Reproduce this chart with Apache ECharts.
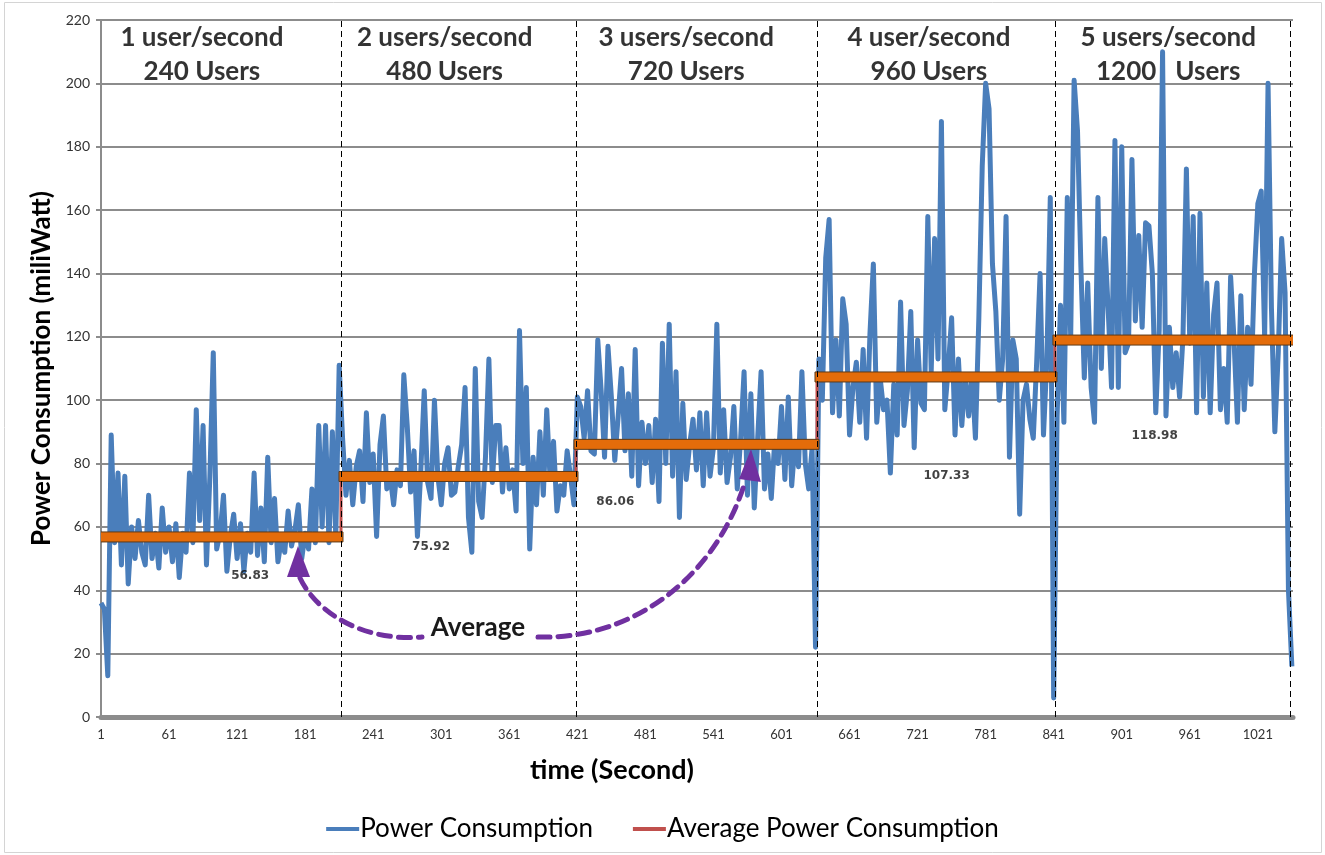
<!DOCTYPE html>
<html><head><meta charset="utf-8">
<script src="https://cdn.jsdelivr.net/npm/echarts@6/dist/echarts.min.js"></script>
<style>html,body{margin:0;padding:0;background:#fff}#c{width:1325px;height:855px}</style>
</head><body><div id="c"></div><script>
// ---- data (one reading every 3 seconds) ----
const SAMPLE_STEP = 3;
const seg1Start = 1;
const seg1Power = [36,34,13,89,55,77,48,76,42,60, 50,62,52,48,70,50,58,47,66,52, 60,49,61,44,58,52,77,55,97,62,
  92,48,76,115,53,58,70,46,57,64, 50,61,46,58,52,77,51,66,49,82, 55,69,49,56,52,65,54,59,67,50,
  58,53,72,55,92,60,92,55,90,57, 111];
const seg2Start = 214;
const seg2Power = [88,70,81,67,79,84,68,96,74,83, 57,86,95,72,76,67,78,73,108,92, 71,84,57,78,103,74,69,100,76,67,
  80,85,70,71,79,86,104,63,52,110, 68,63,82,113,74,92,92,71,85,72, 78,65,122,80,104,53,82,67,90,70,
  97,75,87,65,73,70,84,76,67];
const seg3Start = 421;
const seg3Power = [101,98,88,103,84,83,119,103,82,117, 101,81,95,110,84,102,76,116,73,93, 80,92,74,94,68,118,80,124,76,109,
  63,99,75,86,94,78,96,73,96,76, 85,124,77,97,74,82,98,72,88,109, 70,102,66,88,109,72,83,69,87,80,
  98,75,101,73,87,79,109,80,72,85, 22];
const seg4Start = 634;
const seg4Power = [113,100,145,157,96,119,95,132,124,89, 104,112,93,116,88,121,143,93,107,97, 100,77,105,89,131,92,103,128,85,119,
  99,97,158,109,151,113,188,97,110,126, 89,113,92,108,95,108,88,126,174,200, 192,143,128,100,113,158,82,119,113,64,
  100,105,94,88,112,140,89,113,164,6];
const seg5Start = 844;
const seg5Power = [95,130,93,164,120,201,185,142,107,137, 104,93,164,110,151,129,104,182,104,180, 115,118,176,125,152,123,156,155,140,96,
  122,210,95,123,104,115,101,120,173,118, 158,96,159,101,137,96,127,137,97,110, 93,139,119,93,133,97,123,105,140,162,
  166,120,200,129,90,115,151,134,40,16];

const xTickLabels = [1,61,121,181,241,301,361,421,481,541,601,661,721,781,841,901,961,1021];
const segDividers = [212.6, 419.8, 632.3, 842.1, 1049.3];
const avgValues = [56.83, 75.92, 86.06, 107.33, 118.98];
const segRates = ['1 user/second','2 users/second','3 users/second','4 user/second','5 users/second'];
const segUsers = ['240 Users','480 Users','720 Users','960 Users','1200   Users'];

// ---- annotation placement ----
const X_MIN = 1, X_MAX = 1052;
const headerSecs = [90, 304, 517, 731, 942];
const headerVal = 209;
const avgLabelSecs = [132.5, 292, 454.5, 746.6, 930];
const avgLabelVals = [44.5, 53.7, 67.9, 76, 88.7];

const powerData = [];
[[seg1Start,seg1Power],[seg2Start,seg2Power],[seg3Start,seg3Power],[seg4Start,seg4Power],[seg5Start,seg5Power]]
  .forEach(([s, vals]) => vals.forEach((v, i) => powerData.push([s + i * SAMPLE_STEP, v])));

const segEdges = [X_MIN].concat(segDividers.slice(0, 4), [X_MAX]);
const avgLine = [];
const avgBars = [];
avgValues.forEach((a, i) => {
  avgLine.push([segEdges[i], a], [segEdges[i + 1], a]);
  avgBars.push([segEdges[i], segEdges[i + 1], a]);
});

const chart = echarts.init(document.getElementById('c'), null, {renderer: 'canvas'});
const FONT = 'Lato';
chart.setOption({
  animation: false,
  textStyle: {fontFamily: FONT},
  grid: {left: 101, right: 32, top: 20, bottom: 138, containLabel: false},
  legend: {
    data: ['Power Consumption', 'Average Power Consumption'],
    top: 811, left: 'center', icon: 'rect', itemWidth: 33, itemHeight: 4, itemGap: 40,
    textStyle: {fontFamily: FONT, fontSize: 26, color: '#000', padding: [0, 0, 0, -4]}
  },
  xAxis: {
    type: 'value', min: X_MIN, max: X_MAX, interval: 60,
    name: 'time (Second)', nameLocation: 'middle', nameGap: 40,
    nameTextStyle: {fontFamily: FONT, fontSize: 27, fontWeight: 'bold', color: '#000', padding: [0, 170, 0, 0]},
    axisLine: {show: true, lineStyle: {color: '#8c8c8c', width: 5}},
    axisTick: {show: false},
    splitLine: {show: false},
    axisLabel: {showMaxLabel: false, color: '#333', fontSize: 13, margin: 11,
      formatter: v => xTickLabels.indexOf(Math.round(v)) >= 0 ? String(Math.round(v)) : ''}
  },
  yAxis: {
    type: 'value', min: 0, max: 220, interval: 20,
    name: 'Power Consumption (miliWatt)', nameLocation: 'middle', nameGap: 45, nameRotate: 90,
    nameTextStyle: {fontFamily: FONT, fontSize: 26, fontWeight: 'bold', color: '#000'},
    axisLine: {show: true, lineStyle: {color: '#8c8c8c', width: 2}},
    axisTick: {show: true, inside: false, length: 5, lineStyle: {color: '#8c8c8c', width: 2}},
    splitLine: {show: true, lineStyle: {color: '#8c8c8c', width: 2}},
    axisLabel: {color: '#333', fontSize: 14, margin: 11}
  },
  series: [
    {
      name: 'Power Consumption', type: 'line', data: powerData, symbol: 'none', showSymbol: false,
      color: '#4A7EBB', lineStyle: {color: '#4A7EBB', width: 5, join: 'round'}, z: 2, silent: true,
      markLine: {
        silent: true, symbol: 'none', label: {show: false},
        lineStyle: {color: '#000', type: [6, 4], width: 1},
        data: segDividers.map(x => ({xAxis: x}))
      }
    },
    {
      name: 'Average Power Consumption', type: 'line', data: avgLine, symbol: 'none', showSymbol: false,
      color: '#C0504D', lineStyle: {color: '#C0504D', width: 3}, z: 3, silent: true
    },
    {
      name: 'avgBars', type: 'custom', data: avgBars, encode: {x: [0, 1], y: 2}, z: 4, silent: true, clip: true,
      renderItem: (params, api) => {
        const p0 = api.coord([api.value(0), api.value(2)]);
        const p1 = api.coord([api.value(1), api.value(2)]);
        return {type: 'rect', shape: {x: p0[0] - 2, y: p0[1] - 5, width: p1[0] - p0[0] + 4, height: 10},
          style: {fill: '#E46C0A', stroke: '#5e3a17', lineWidth: 1}};
      }
    },
    {
      name: 'headers', type: 'scatter', symbolSize: 0, silent: true, z: 5,
      data: headerSecs.map((s, i) => ({value: [s, headerVal], label: {formatter: segRates[i] + '\n' + segUsers[i]}})),
      label: {show: true, position: [0, 0], align: 'center', verticalAlign: 'middle',
        fontFamily: FONT, fontSize: 26, fontWeight: 'bold', color: '#000', lineHeight: 34}
    },
    {
      name: 'avgLabels', type: 'scatter', symbolSize: 0, silent: true, z: 5,
      data: avgLabelSecs.map((s, i) => ({value: [s, avgLabelVals[i]], label: {formatter: avgValues[i].toFixed(2)}})),
      label: {show: true, position: [0, 0], align: 'center', verticalAlign: 'middle',
        fontFamily: 'DejaVu Sans', fontSize: 12, fontWeight: 'bold', color: '#111'}
    }
  ],
  graphic: [
    {type: 'rect', z: 0, shape: {x: 4.5, y: 2.5, width: 1317, height: 850}, style: {fill: 'none', stroke: '#d4d4d4', lineWidth: 1}},
    {type: 'bezierCurve', z: 10, shape: {x1: 300, y1: 578, cpx1: 315, cpy1: 610, cpx2: 360, cpy2: 642, x2: 422, y2: 637},
      style: {stroke: '#7030A0', lineWidth: 5, lineDash: [12, 8], lineCap: 'round', fill: null}},
    {type: 'bezierCurve', z: 10, shape: {x1: 538, y1: 637, cpx1: 630, cpy1: 640, cpx2: 715, cpy2: 580, x2: 745, y2: 482},
      style: {stroke: '#7030A0', lineWidth: 5, lineDash: [12, 8], lineCap: 'round', fill: null}},
    {type: 'polygon', z: 10, shape: {points: [[298, 546], [287, 577], [310, 577]]}, style: {fill: '#7030A0'}},
    {type: 'polygon', z: 10, shape: {points: [[751, 449], [739, 479], [761, 482]]}, style: {fill: '#7030A0'}},
    {type: 'text', z: 10, x: 478, y: 628, style: {text: 'Average', fontFamily: FONT, fontSize: 26, fontWeight: 'bold',
      fill: '#1a1a1a', align: 'center', verticalAlign: 'middle'}}
  ]
});
</script></body></html>
